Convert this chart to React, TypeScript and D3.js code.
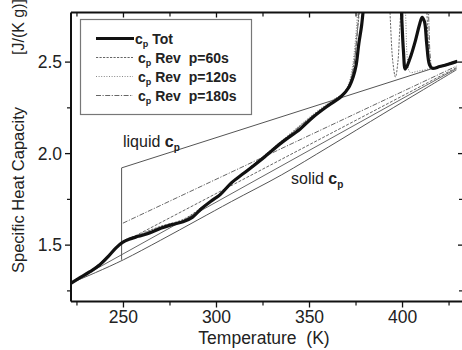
import React from "react";
import * as d3 from "d3";

// ---- data ----
const xTicksMajor = [250, 300, 350, 400];
const xTicksMinor = [225, 275, 325, 375, 425];
const yTicksMajor = [1.5, 2.0, 2.5];
const yTicksMinor = [1.25, 1.75, 2.25];

// cp Tot (two segments, values above the frame get clipped)
const totSeg1: [number, number][] = [
  [221.5, 1.29], [226, 1.318], [232, 1.355], [237, 1.39], [242, 1.44], [246, 1.485],
  [249.5, 1.515], [253, 1.532], [258, 1.548], [264, 1.566], [270, 1.592], [276, 1.612],
  [282, 1.628], [287, 1.652], [292, 1.7], [297, 1.74], [302, 1.776], [308, 1.84],
  [315, 1.895], [325, 1.975], [335, 2.06], [345, 2.135], [352, 2.2], [360, 2.262],
  [367, 2.312], [371, 2.36], [373.5, 2.42], [375, 2.48], [376.5, 2.6], [378, 2.7],
  [379.5, 2.85], [381, 3.0],
];
const totSeg2: [number, number][] = [
  [398.5, 3.0], [399.5, 2.76], [400.5, 2.56], [401.5, 2.462], [404, 2.52], [407, 2.62],
  [409, 2.7], [410.5, 2.745], [411.8, 2.72], [413, 2.6], [414.5, 2.485], [416, 2.466],
  [420, 2.476], [425, 2.49], [429.5, 2.505],
];

// cp Rev p=60s
const rev60Seg1: [number, number][] = [
  [221.5, 1.292], [232, 1.358], [242, 1.445], [249.5, 1.52], [258, 1.556], [270, 1.603],
  [282, 1.64], [292, 1.706], [302, 1.784], [315, 1.9], [335, 2.065], [352, 2.21],
  [362, 2.285], [369, 2.34], [372, 2.4], [374, 2.5], [375.5, 2.65], [377, 2.8], [378, 3.0],
];
const rev60Seg2: [number, number][] = [
  [392.5, 3.0], [393.5, 2.72], [394.8, 2.5], [396.2, 2.418], [397.5, 2.5], [398.5, 2.68],
  [399.5, 2.85], [400.5, 3.0],
];
const rev60Seg3: [number, number][] = [
  [412.5, 3.0], [413.2, 2.75], [414, 2.58], [415, 2.47], [417, 2.465], [422, 2.478], [429.5, 2.5],
];

// cp Rev p=120s
const rev120Seg1: [number, number][] = [
  [221.5, 1.29], [232, 1.356], [242, 1.442], [249.5, 1.518], [258, 1.552], [270, 1.6],
  [282, 1.636], [292, 1.703], [302, 1.78], [315, 1.898], [335, 2.07], [352, 2.215],
  [362, 2.29], [368, 2.33], [371, 2.38], [373, 2.47], [374.5, 2.6], [376, 2.8], [377, 3.0],
];
const rev120Seg2: [number, number][] = [
  [401, 3.0], [401.8, 2.72], [402.6, 2.52], [404, 2.445], [408, 2.45], [412, 2.458],
  [416, 2.468], [422, 2.48], [429.5, 2.5],
];

// cp Rev p=180s
const rev180Seg1: [number, number][] = [
  [221.5, 1.29], [232, 1.357], [242, 1.443], [249.5, 1.517], [258, 1.55], [270, 1.597],
  [282, 1.632], [292, 1.702], [302, 1.778], [315, 1.897], [335, 2.066], [352, 2.208],
  [362, 2.28], [368, 2.325], [371.5, 2.38], [373.5, 2.46], [375, 2.58], [376.5, 2.78], [377.5, 3.0],
];
const rev180Seg2: [number, number][] = [
  [413.5, 3.0], [414.2, 2.7], [415, 2.52], [416, 2.468], [420, 2.474], [429.5, 2.5],
];

// reference lines
const solidCp: [number, number][] = [
  [221.5, 1.292], [235, 1.35], [250, 1.42], [270, 1.527], [290, 1.638], [308, 1.738],
  [335, 1.884], [360, 2.035], [390, 2.22], [410, 2.342], [429, 2.458],
];
const solidChord: [number, number][] = [[221.5, 1.292], [429, 2.465]];
const liquidCp: [number, number][] = [[249, 1.922], [429, 2.507]];
const glassStep: [number, number][] = [[249, 1.42], [249, 1.922]];
const lineDashDot: [number, number][] = [[249.7, 1.62], [429, 2.478]];
const lineDashed: [number, number][] = [[249.7, 1.515], [429, 2.47]];

const legendLabels = ["Tot", "Rev  p=60s", "Rev  p=120s", "Rev  p=180s"];

// ---- layout ----
const W = 462, H = 350;
const L = 71, R = 463, T = 12.5, B = 301.5;
const FONT = "'Liberation Sans', Arial, Helvetica, sans-serif";
const GREY = "#555";

export default function App() {
  const x = d3.scaleLinear().domain([221.8, 432.5]).range([L, R]);
  const y = d3.scaleLinear().domain([1.192, 2.771]).range([B, T]);
  const smooth = d3.line<[number, number]>().x(d => x(d[0])).y(d => y(d[1])).curve(d3.curveCatmullRom.alpha(0.5));
  const straight = d3.line<[number, number]>().x(d => x(d[0])).y(d => y(d[1]));

  const dash60 = "2.2,1.3";
  const dash120 = "1,1.6";
  const dash180 = "5,1.5,1.2,1.5";

  return (
    <svg width={W} height={H} style={{ position: "absolute", left: 0, top: 0, background: "#fff" }} fontFamily={FONT}>
      <defs>
        <clipPath id="plotclip">
          <rect x={L} y={T} width={R - L} height={B - T} />
        </clipPath>
      </defs>
      <rect x={0} y={0} width={W} height={H} fill="#fff" />

      <g clipPath="url(#plotclip)">
        {/* reference lines */}
        <path d={smooth(solidCp)!} fill="none" stroke={GREY} strokeWidth={1} />
        <path d={straight(solidChord)!} fill="none" stroke={GREY} strokeWidth={0.9} />
        <path d={straight(lineDashed)!} fill="none" stroke={GREY} strokeWidth={0.9} strokeDasharray="3,1.5" />
        <path d={straight(lineDashDot)!} fill="none" stroke={GREY} strokeWidth={0.9} strokeDasharray={dash180} />
        <path d={straight(liquidCp)!} fill="none" stroke={GREY} strokeWidth={1} />
        <path d={straight(glassStep)!} fill="none" stroke={GREY} strokeWidth={1} />

        {/* reversing curves */}
        {[rev60Seg1, rev60Seg2, rev60Seg3].map((s, i) => (
          <path key={"a" + i} d={smooth(s)!} fill="none" stroke="#666" strokeWidth={1} strokeDasharray={dash60} />
        ))}
        {[rev120Seg1, rev120Seg2].map((s, i) => (
          <path key={"b" + i} d={smooth(s)!} fill="none" stroke="#777" strokeWidth={1} strokeDasharray={dash120} />
        ))}
        {[rev180Seg1, rev180Seg2].map((s, i) => (
          <path key={"c" + i} d={smooth(s)!} fill="none" stroke="#666" strokeWidth={1} strokeDasharray={dash180} />
        ))}

        {/* total */}
        {[totSeg1, totSeg2].map((s, i) => (
          <path key={"t" + i} d={smooth(s)!} fill="none" stroke="#111" strokeWidth={3.2} strokeLinejoin="round" />
        ))}
      </g>

      {/* frame */}
      <line x1={L} x2={R} y1={B} y2={B} stroke="#111" strokeWidth={2} />
      <line x1={L} x2={R} y1={T} y2={T} stroke="#111" strokeWidth={2} />
      <line x1={L} x2={L} y1={T} y2={B} stroke="#111" strokeWidth={2} />
      <line x1={R} x2={R} y1={T} y2={B} stroke="#111" strokeWidth={2} />

      {/* x ticks */}
      {xTicksMajor.map(t => (
        <g key={"xM" + t}>
          <line x1={x(t)} x2={x(t)} y1={B} y2={B + 6} stroke="#111" strokeWidth={1.3} />
          <line x1={x(t)} x2={x(t)} y1={T} y2={T + 5} stroke="#111" strokeWidth={1.3} />
          <text x={x(t)} y={323} textAnchor="middle" fontSize={17.5} fill="#222">{t}</text>
        </g>
      ))}
      {xTicksMinor.map(t => (
        <g key={"xm" + t}>
          <line x1={x(t)} x2={x(t)} y1={B} y2={B + 4} stroke="#111" strokeWidth={1.2} />
          <line x1={x(t)} x2={x(t)} y1={T} y2={T + 4} stroke="#111" strokeWidth={1.2} />
        </g>
      ))}

      {/* y ticks */}
      {yTicksMajor.map(t => (
        <g key={"yM" + t}>
          <line x1={L - 6} x2={L} y1={y(t)} y2={y(t)} stroke="#111" strokeWidth={1.3} />
          <line x1={R - 5} x2={R} y1={y(t)} y2={y(t)} stroke="#111" strokeWidth={1.3} />
          <text x={62} y={y(t) + 6} textAnchor="end" fontSize={17.5} fill="#222">{t.toFixed(1)}</text>
        </g>
      ))}
      {yTicksMinor.map(t => (
        <g key={"ym" + t}>
          <line x1={L - 4} x2={L} y1={y(t)} y2={y(t)} stroke="#111" strokeWidth={1.2} />
          <line x1={R - 4} x2={R} y1={y(t)} y2={y(t)} stroke="#111" strokeWidth={1.2} />
        </g>
      ))}

      {/* axis titles */}
      <text x={264} y={344} textAnchor="middle" fontSize={17.5} fill="#222" style={{ whiteSpace: "pre" }}>Temperature  (K)</text>
      <text transform="translate(24,273) rotate(-90)" textAnchor="start" fontSize={16.5} fill="#222">Specific Heat Capacity</text>
      <text transform="translate(24,55) rotate(-90)" textAnchor="start" fontSize={16} fill="#222">[J/(K g)]</text>

      {/* annotations */}
      <text x={123} y={147} fontSize={16} fill="#222">
        liquid <tspan fontWeight="bold">c</tspan><tspan fontWeight="bold" fontSize={10} dy={4}>p</tspan>
      </text>
      <text x={291} y={184} fontSize={16} fill="#222">
        solid <tspan fontWeight="bold">c</tspan><tspan fontWeight="bold" fontSize={10} dy={4}>p</tspan>
      </text>

      {/* legend */}
      <rect x={80.5} y={19.5} width={171} height={95} fill="#fff" stroke="#777" strokeWidth={1.2} />
      {legendLabels.map((lab, i) => {
        const yy = 38.5 + i * 19;
        const styles = [
          { stroke: "#111", w: 3.2, dash: undefined as string | undefined },
          { stroke: "#666", w: 1, dash: dash60 },
          { stroke: "#888", w: 1, dash: dash120 },
          { stroke: "#666", w: 1, dash: dash180 },
        ][i];
        return (
          <g key={lab}>
            <line x1={96} x2={i === 0 ? 134 : 133} y1={yy} y2={yy} stroke={styles.stroke} strokeWidth={styles.w} strokeDasharray={styles.dash} />
            <text x={i === 0 ? 135 : 138} y={yy + 5} fontSize={14} fontWeight="bold" fill="#222" style={{ whiteSpace: "pre" }}>
              c<tspan fontSize={9} dy={3}>p</tspan><tspan dy={-3}>{" " + lab}</tspan>
            </text>
          </g>
        );
      })}
    </svg>
  );
}
